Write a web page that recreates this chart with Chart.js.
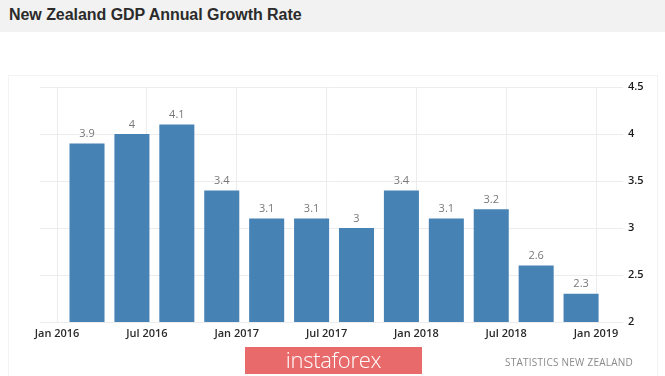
<!DOCTYPE html>
<html>
<head>
<meta charset="utf-8">
<script src="https://cdn.jsdelivr.net/npm/chart.js@4/dist/chart.umd.min.js"></script>
<style>
  html, body { margin:0; padding:0; background:#fff; }
  #wrap { position:relative; width:665px; height:376px; overflow:hidden; background:#fff; }
  #titlebar { position:absolute; left:0; top:0; width:665px; height:32px; background:#f2f2f2; }
  #title { position:absolute; left:9px; top:6px; font-family:"Liberation Sans", Arial, sans-serif; font-weight:bold; font-size:16px; color:#2b2b2b; letter-spacing:-0.05px; white-space:nowrap; }
  #panel { position:absolute; left:8px; top:75px; width:650px; height:320px; border:1px solid #f3f3f3; box-sizing:border-box; }
  #logo { position:absolute; left:245px; top:347px; width:177px; height:27px; background:#e86a6a; color:#fff; font-family:"Open Sans", sans-serif; font-weight:300; font-size:22px; line-height:25px; text-align:center; letter-spacing:-0.3px; }
  #source { position:absolute; left:505px; top:355px; font-family:"Open Sans", sans-serif; font-size:10px; color:#8a8a8a; white-space:nowrap; letter-spacing:0.25px; }
  canvas { position:absolute; left:0; top:0; }
</style>
</head>
<body>
<div id="wrap">
  <div id="titlebar"></div>
  <div id="title">New Zealand GDP Annual Growth Rate</div>
  <div id="panel"></div>
  <canvas id="c" width="665" height="376"></canvas>
  <div id="logo">instaforex</div>
  <div id="source">STATISTICS NEW ZEALAND</div>
</div>
<script>
// Quarter-end months, counted from Jan 2016 = 0
const quarterMonths = [2, 5, 8, 11, 14, 17, 20, 23, 26, 29, 32, 35];
const quarterNames = ['Mar 2016','Jun 2016','Sep 2016','Dec 2016','Mar 2017','Jun 2017','Sep 2017','Dec 2017','Mar 2018','Jun 2018','Sep 2018','Dec 2018'];
const growthRate = [3.9, 4, 4.1, 3.4, 3.1, 3.1, 3, 3.4, 3.1, 3.2, 2.6, 2.3];
const xTickMonths = [0, 6, 12, 18, 24, 30, 36];
const xTickLabels = ['Jan 2016','Jul 2016','Jan 2017','Jul 2017','Jan 2018','Jul 2018','Jan 2019'];
const yTicks = [2, 2.5, 3, 3.5, 4, 4.5];
const yTickLabels = ['2', '2.5', '3', '3.5', '4', '4.5'];

const valueLabels = {
  id: 'valueLabels',
  afterDatasetsDraw(chart) {
    const ctx = chart.ctx;
    const meta = chart.getDatasetMeta(0);
    ctx.save();
    ctx.font = '11px "Open Sans", sans-serif';
    ctx.fillStyle = '#777';
    ctx.textAlign = 'center';
    ctx.textBaseline = 'bottom';
    meta.data.forEach((bar, i) => {
      ctx.fillText(String(growthRate[i]), bar.x, bar.y - 4);
    });
    ctx.restore();
  }
};

new Chart(document.getElementById('c'), {
  type: 'bar',
  data: {
    datasets: [{
      label: 'GDP Annual Growth Rate',
      data: quarterMonths.map((m, i) => ({ x: m, y: growthRate[i] })),
      backgroundColor: '#4682b4',
      borderWidth: 0,
      categoryPercentage: 1,
      barPercentage: 0.78
    }]
  },
  options: {
    responsive: false,
    animation: false,
    layout: { padding: { left: 40, top: 87, right: 0, bottom: 34 } },
    plugins: { legend: { display: false }, tooltip: { enabled: false } },
    scales: {
      x: {
        type: 'linear',
        offset: false,
        min: -1.14,
        max: 37.8,
        afterBuildTicks: s => { s.ticks = xTickMonths.map(v => ({ value: v })); },
        afterFit: s => { s.height = 20; s.paddingLeft = 0; s.paddingRight = 0; },
        grid: { color: '#ececec', drawTicks: false, offset: false },
        border: { display: false },
        ticks: {
          padding: 5,
          autoSkip: false,
          maxRotation: 0,
          color: '#2a2a2a',
          font: { family: '"Open Sans", sans-serif', size: 11, weight: '600' },
          callback: v => xTickLabels[xTickMonths.indexOf(v)]
        }
      },
      y: {
        position: 'right',
        min: 2,
        max: 4.5,
        afterBuildTicks: s => { s.ticks = yTicks.map(v => ({ value: v })); },
        afterFit: s => { s.width = 42; s.paddingTop = 0; s.paddingBottom = 0; },
        grid: { color: '#ececec', drawTicks: false },
        border: { display: false },
        ticks: {
          padding: 5,
          color: '#1a1a1a',
          font: { family: '"Open Sans", sans-serif', size: 11, weight: '600' },
          callback: v => yTickLabels[yTicks.indexOf(v)]
        }
      }
    }
  },
  plugins: [valueLabels]
});
</script>
</body>
</html>
